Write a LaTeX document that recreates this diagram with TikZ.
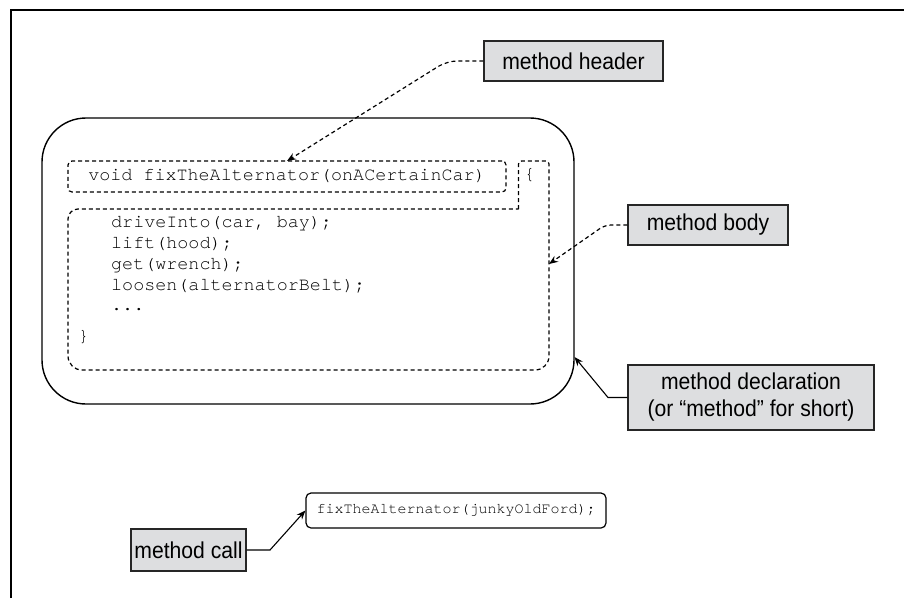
\documentclass[tikz,border=0pt]{standalone}
\usepackage{fontspec}
\newfontfamily\labfont{Liberation Sans}[FakeStretch=0.92]
\newfontfamily\codefont{TeX Gyre Cursor}[Ligatures={NoCommon}]
\usetikzlibrary{arrows.meta}
\definecolor{boxgray}{RGB}{221,222,224}
\begin{document}
\begin{tikzpicture}[x=1pt,y=-1pt,
  lbl/.style={draw=black!85,line width=1.2pt,fill=boxgray,font=\labfont\fontsize{23}{27}\selectfont,align=center,inner sep=0pt},
  codeln/.style={font=\codefont\fontsize{18.4}{21}\selectfont,inner sep=0pt,anchor=west,text height=0.7em,text depth=0.2em},
  dashln/.style={dash pattern=on 4pt off 3pt,line width=1.2pt},
  tip/.style={-{Stealth[length=9pt,width=7pt]}},
]
\useasboundingbox (0,0) rectangle (904,598);
% frame
\draw[line width=1.6pt] (11,598) -- (11,10) -- (904,10);
% method declaration outline
\node[draw,line width=1.4pt,rounded corners=44pt,minimum width=532pt,minimum height=286pt,inner sep=0pt] (decl) at (308,261) {};
% header dashed box
\node[draw,dashln,rounded corners=4pt,minimum width=438pt,minimum height=31pt,inner sep=0pt,font=\codefont\fontsize{18.4}{21}\selectfont] (hdr) at (287,176.5) {void fixTheAlternator(onACertainCar)};
% body dashed outline
\draw[dashln,rounded corners=3pt] (518.5,209) -- (518.5,161) -- (549,161) [rounded corners=14pt] -- (549,370) -- (68,370) [rounded corners=10pt] -- (68,209) [sharp corners] -- cycle;
\node[codeln] (obr) at (524,177) {\{};
\node[codeln] (l1) at (111,225) {driveInto(car, bay);};
\node[codeln] (l2) at (111,245.5) {lift(hood);};
\node[codeln] (l3) at (111,266.5) {get(wrench);};
\node[codeln] (l4) at (111,288) {loosen(alternatorBelt);};
\node[codeln] (l5) at (111,307.5) {...};
\node[codeln] (cbr) at (78,339) {\}};
% call box
\node[draw,line width=1.2pt,rounded corners=5pt,minimum width=300pt,minimum height=35pt,inner sep=0pt,font=\codefont\fontsize{15}{18}\selectfont] (call) at (456,510.5) {fixTheAlternator(junkyOldFord);};
% labels
\node[lbl,minimum width=179pt,minimum height=40pt] (mh) at (573.5,61) {method header};
\node[lbl,minimum width=160pt,minimum height=40pt] (mb) at (708,225) {method body};
\node[lbl,minimum width=246pt,minimum height=65pt] (md) at (751,397.5) {method declaration\\(or “method” for short)};
\node[lbl,minimum width=115pt,minimum height=42pt] (mc) at (188.5,550) {method call};
% connectors
\coordinate (hdrtip) at (287,161);
\coordinate (bodytip) at (549,264);
\coordinate (decltip) at (574.5,357);
\draw[dashln,tip,rounded corners=10pt] (mh.west) -- (447,61) -- (hdrtip);
\draw[dashln,tip,rounded corners=6pt] (mb.west) -- (605,225) -- (bodytip);
\draw[line width=1.1pt,tip] (md.west) -- (608,397.5) -- (decltip);
\draw[line width=1.1pt,tip] (mc.east) -- (270,550) -- (call.west);
\end{tikzpicture}
\end{document}
